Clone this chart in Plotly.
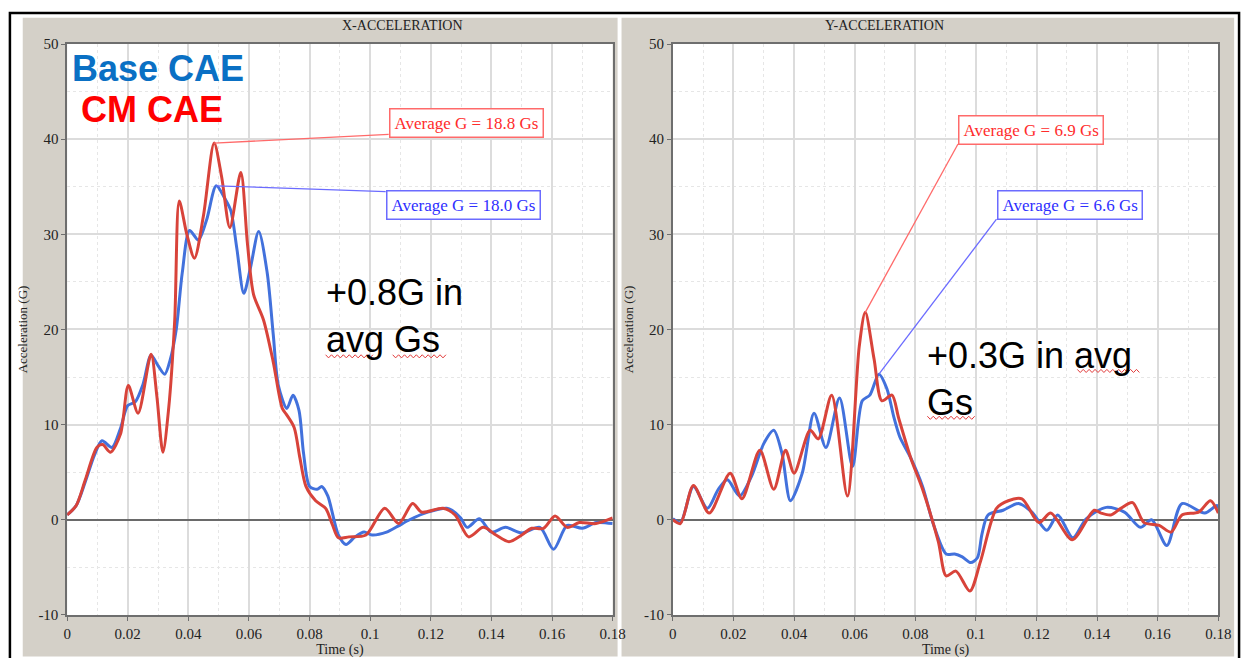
import plotly.graph_objects as go

W, H = 1257, 658

# ---- axis ticks ----
time_ticks = [0, 0.02, 0.04, 0.06, 0.08, 0.1, 0.12, 0.14, 0.16, 0.18]
time_labels = ["0", "0.02", "0.04", "0.06", "0.08", "0.1", "0.12", "0.14", "0.16", "0.18"]
accel_ticks = [-10, 0, 10, 20, 30, 40, 50]
accel_labels = ["-10", "0", "10", "20", "30", "40", "50"]

# ---- X-acceleration, Base CAE ----
x_base_t = [0.000, 0.003, 0.006, 0.009, 0.0115, 0.0148, 0.0175, 0.020, 0.0225, 0.025,
            0.0277, 0.030, 0.0322, 0.034, 0.036, 0.038, 0.0404, 0.0433, 0.046, 0.0492,
            0.052, 0.054, 0.056, 0.0583, 0.0605, 0.0632, 0.066, 0.068, 0.0697, 0.0725,
            0.0745, 0.0765, 0.078, 0.080, 0.0825, 0.084, 0.086, 0.0895, 0.092, 0.095,
            0.098, 0.1006, 0.1054, 0.109, 0.113, 0.119, 0.1253, 0.127, 0.1298, 0.132,
            0.136, 0.140, 0.1446, 0.150, 0.156, 0.1605, 0.165, 0.170, 0.1746, 0.180]
x_base_g = [0.5, 1.5, 4.0, 6.8, 8.3, 7.6, 9.5, 12.0, 12.4, 14.2,
            17.3, 16.2, 15.3, 16.8, 20.0, 26.0, 30.4, 29.4, 31.5, 35.1,
            33.8, 32.5, 28.5, 23.8, 26.5, 30.3, 26.0, 19.5, 14.1, 11.7,
            13.1, 11.5, 7.0, 3.5, 3.2, 3.5, 2.5, -1.6, -2.6, -1.8,
            -1.3, -1.6, -1.3, -0.7, 0.0, 0.8, 1.2, 1.0, 0.2, -0.8,
            0.1, -1.3, -0.8, -1.4, -0.8, -3.1, -0.6, -0.9, -0.3, -0.4]

# ---- X-acceleration, CM CAE ----
x_cm_t = [0.000, 0.003, 0.006, 0.0098, 0.0117, 0.0143, 0.0176, 0.0202, 0.0234, 0.0277,
          0.0296, 0.0316, 0.0335, 0.0355, 0.037, 0.0395, 0.042, 0.045, 0.0485, 0.051,
          0.0537, 0.0573, 0.0595, 0.0615, 0.0648, 0.068, 0.071, 0.0725, 0.0749, 0.0768,
          0.0788, 0.082, 0.0853, 0.0875, 0.0895, 0.093, 0.0986, 0.1048, 0.1094, 0.114,
          0.117, 0.124, 0.128, 0.1325, 0.1373, 0.1415, 0.1458, 0.150, 0.1533, 0.1572,
          0.161, 0.165, 0.169, 0.1745, 0.180]
x_cm_g = [0.5, 1.5, 4.2, 7.6, 7.9, 7.1, 9.0, 14.1, 11.2, 17.4,
          13.0, 7.1, 11.7, 21.0, 33.5, 30.0, 27.5, 32.0, 39.6, 36.0,
          30.7, 36.5, 29.0, 23.7, 21.0, 16.6, 11.7, 11.0, 9.7, 6.5,
          3.5, 2.0, 1.2, -0.5, -1.9, -1.8, -1.6, 1.2, -0.4, 1.7,
          0.8, 1.2, 0.5, -1.8, -0.8, -1.6, -2.3, -1.6, -0.9, -0.9,
          0.4, -0.8, -0.3, -0.4, 0.2]

# ---- Y-acceleration, Base CAE ----
y_base_t = [0.000, 0.0025, 0.0068, 0.0114, 0.015, 0.018, 0.022, 0.026, 0.030, 0.0333,
            0.036, 0.0388, 0.0427, 0.0466, 0.0505, 0.055, 0.0593, 0.0625, 0.065, 0.068,
            0.0706, 0.073, 0.0749, 0.0785, 0.0824, 0.086, 0.0902, 0.093, 0.0955, 0.0983,
            0.1005, 0.102, 0.104, 0.109, 0.114, 0.1185, 0.1234, 0.127, 0.132, 0.1364,
            0.143, 0.149, 0.1543, 0.158, 0.163, 0.168, 0.1755, 0.1795, 0.180]
y_base_g = [0.1, -0.3, 3.5, 1.2, 3.2, 4.2, 2.5, 4.6, 8.0, 9.4,
            7.0, 2.0, 4.9, 11.2, 7.6, 12.8, 5.6, 12.5, 13.1, 15.3,
            13.8, 10.7, 8.7, 6.5, 3.5, -0.5, -3.6, -3.6, -3.9, -4.5,
            -4.0, -1.5, 0.5, 1.0, 1.7, 0.8, -1.1, 0.5, -1.9, 0.1,
            1.3, 0.8, -0.8, 0.0, -2.7, 1.7, 0.7, 1.5, 1.2]

# ---- Y-acceleration, CM CAE ----
y_cm_t = [0.000, 0.0025, 0.0068, 0.012, 0.0189, 0.0228, 0.0287, 0.0333, 0.0372, 0.040,
          0.0453, 0.048, 0.0524, 0.0576, 0.0615, 0.0635, 0.0664, 0.069, 0.0723, 0.0745,
          0.0785, 0.0824, 0.0876, 0.0902, 0.0934, 0.098, 0.1015, 0.1068, 0.1107, 0.1152,
          0.1208, 0.1247, 0.1318, 0.139, 0.1413, 0.1445, 0.1478, 0.1517, 0.1555, 0.1605,
          0.1644, 0.168, 0.1735, 0.1774, 0.180]
y_cm_g = [0.0, -0.4, 3.6, 0.7, 4.9, 2.2, 7.3, 3.2, 7.3, 4.9,
          9.4, 8.5, 13.1, 2.5, 18.2, 21.8, 16.9, 12.5, 13.1, 10.7,
          6.5, 3.2, -2.3, -5.9, -5.4, -7.5, -4.4, 1.2, 2.0, 2.2,
          -0.3, 0.7, -2.1, 1.0, 0.7, 0.5, 1.2, 1.8, -0.3, -0.6,
          -1.3, 0.5, 0.8, 2.0, 0.7]

series_names = ["Base CAE", "CM CAE"]
avg_x = ["Average G = 18.0 Gs", "Average G = 18.8 Gs"]
avg_y = ["Average G = 6.6 Gs", "Average G = 6.9 Gs"]
delta_x = "+0.8G in<br>avg Gs"
delta_y = "+0.3G in avg<br>Gs"

BLUE = "#4271dc"
RED = "#d8433a"
BOX_RED = "#ff6a6a"
BOX_BLUE = "#6b6bff"
PANEL = "#d4d0c8"
SERIF = "Liberation Serif, Times New Roman, serif"
SANS = "Liberation Sans, Arial, sans-serif"


def px_x(p):
    return p / W


def px_y(p):
    return 1 - p / H


dom_y = [px_y(622), px_y(37)]
dom_x1 = [px_x(64), px_x(617)]
dom_x2 = [px_x(678), px_x(1231)]

fig = go.Figure()

for t, g, col, name, xa, ya in [
    (x_base_t, x_base_g, BLUE, series_names[0], "x", "y"),
    (x_cm_t, x_cm_g, RED, series_names[1], "x", "y"),
    (y_base_t, y_base_g, BLUE, series_names[0], "x2", "y2"),
    (y_cm_t, y_cm_g, RED, series_names[1], "x2", "y2"),
]:
    fig.add_trace(go.Scatter(
        x=t, y=g, mode="lines", name=name, xaxis=xa, yaxis=ya,
        line=dict(color=col, width=3, shape="spline", smoothing=0.8),
        showlegend=False, hoverinfo="skip",
    ))

axis_common = dict(
    showline=True, linecolor="#6e6e6e", linewidth=1.5, mirror=True,
    ticks="outside", ticklen=4, tickcolor="#6e6e6e",
    showgrid=True, gridcolor="#dcdcdc", gridwidth=1.5,
    tickfont=dict(family=SERIF, size=15, color="#222222"),
)
x_common = dict(axis_common, range=[0, 0.18], tickvals=time_ticks, ticktext=time_labels,
                zeroline=False,
                minor=dict(dtick=0.01, tick0=0, showgrid=True, gridcolor="#e6e6e6",
                           griddash="dot", gridwidth=1, ticks=""),
                title=dict(text="Time (s)", standoff=2,
                           font=dict(family=SERIF, size=14, color="#222222")))
y_common = dict(axis_common, range=[-10, 50], tickvals=accel_ticks, ticktext=accel_labels,
                zeroline=True, zerolinecolor="#6a6a6a", zerolinewidth=1.5,
                minor=dict(dtick=5, tick0=0, showgrid=True, gridcolor="#e6e6e6",
                           griddash="dot", gridwidth=1, ticks=""),
                title=dict(text="Acceleration (G)", standoff=8,
                           font=dict(family=SERIF, size=13, color="#222222")))

fig.update_layout(
    width=W, height=H, margin=dict(l=0, r=0, t=0, b=0),
    paper_bgcolor="white", plot_bgcolor="white",
    xaxis=dict(x_common, domain=dom_x1, anchor="y"),
    yaxis=dict(y_common, domain=dom_y, anchor="x"),
    xaxis2=dict(x_common, domain=dom_x2, anchor="y2"),
    yaxis2=dict(y_common, domain=dom_y, anchor="x2"),
)

shapes = []
# grey chart panels and white plotting areas
shapes.append(dict(type="rect", xref="paper", yref="paper", layer="below",
                   x0=px_x(19), x1=px_x(622), y0=-0.01, y1=px_y(10),
                   fillcolor=PANEL, line=dict(width=0)))
shapes.append(dict(type="rect", xref="paper", yref="paper", layer="below",
                   x0=px_x(626), x1=px_x(1247), y0=-0.01, y1=px_y(10),
                   fillcolor=PANEL, line=dict(width=0)))
for dx in (dom_x1, dom_x2):
    shapes.append(dict(type="rect", xref="paper", yref="paper", layer="below",
                       x0=dx[0], x1=dx[1], y0=dom_y[0], y1=dom_y[1],
                       fillcolor="white", line=dict(width=0)))
# outer frame
shapes.append(dict(type="rect", xref="paper", yref="paper",
                   x0=px_x(6), x1=px_x(1252), y0=-0.02, y1=px_y(5),
                   fillcolor="rgba(0,0,0,0)", line=dict(color="black", width=2.5)))


def peak(t, g):
    i = max(range(len(g)), key=lambda k: g[k])
    return t[i], g[i]


# connectors from the curve peaks to the average-G boxes
callouts = [
    # (t, g, colour, text_colour, label, box_t, box_g, end_g, xref, yref)
    (x_cm_t, x_cm_g, BOX_RED, "#ff2c2c", avg_x[1], 0.1061, 41.7, 40.5, "x", "y"),
    (x_base_t, x_base_g, BOX_BLUE, "#2f2fff", avg_x[0], 0.1051, 33.1, 34.5, "x", "y"),
    (y_cm_t, y_cm_g, BOX_RED, "#ff2c2c", avg_y[1], 0.0941, 41.0, 39.5, "x2", "y2"),
    (y_base_t, y_base_g, BOX_BLUE, "#2f2fff", avg_y[0], 0.1068, 33.1, 31.6, "x2", "y2"),
]
annotations = []
for t, g, col, tcol, label, bt, bg, eg, xr, yr in callouts:
    pt, pg = peak(t, g)
    shapes.append(dict(type="line", xref=xr, yref=yr, x0=pt, y0=pg, x1=bt, y1=eg,
                       line=dict(color=col, width=1.3)))
    annotations.append(dict(xref=xr, yref=yr, x=bt, y=bg, xanchor="left", yanchor="middle",
                            text=label, showarrow=False, bgcolor="white",
                            bordercolor=col, borderwidth=1.5, borderpad=4,
                            font=dict(family=SERIF, size=17, color=tcol)))

# chart titles
annotations.append(dict(xref="paper", yref="paper", x=sum(dom_x1) / 2, y=px_y(18),
                        yanchor="middle", text="X-ACCELERATION", showarrow=False,
                        font=dict(family=SERIF, size=14, color="#222222")))
annotations.append(dict(xref="paper", yref="paper", x=sum(dom_x2) / 2, y=px_y(18),
                        yanchor="middle", text="Y-ACCELERATION", showarrow=False,
                        font=dict(family=SERIF, size=14, color="#222222")))

# series key
annotations.append(dict(xref="paper", yref="paper", x=px_x(67), y=px_y(62), xanchor="left",
                        yanchor="middle", text="<b>" + series_names[0] + "</b>",
                        showarrow=False, font=dict(family=SANS, size=36, color="#0a70c4")))
annotations.append(dict(xref="paper", yref="paper", x=px_x(76), y=px_y(104), xanchor="left",
                        yanchor="middle", text="<b>" + series_names[1] + "</b>",
                        showarrow=False, font=dict(family=SANS, size=36, color="#ff0000")))

# difference notes
annotations.append(dict(xref="paper", yref="paper", x=px_x(324), y=px_y(316), xanchor="left",
                        yanchor="middle", text=delta_x, align="left", showarrow=False,
                        font=dict(family=SANS, size=36, color="black")))
annotations.append(dict(xref="paper", yref="paper", x=px_x(934), y=px_y(380), xanchor="left",
                        yanchor="middle", text=delta_y, align="left", showarrow=False,
                        font=dict(family=SANS, size=36, color="black")))


def squiggle(x0, x1, y, amp=1.6, step=3.0):
    pts = []
    x = x0
    k = 0
    while x <= x1:
        yy = y + (amp if k % 2 else -amp)
        pts.append(f"{px_x(x):.5f},{px_y(yy):.5f}")
        x += step
        k += 1
    return "M " + " L ".join(pts)


# spell-check underlines beneath the notes
for a, b, yy in [(326, 375, 357), (394, 448, 357), (1088, 1152, 372), (936, 985, 420)]:
    shapes.append(dict(type="path", xref="paper", yref="paper", path=squiggle(a, b, yy),
                       line=dict(color="#e23b3b", width=1)))

fig.update_layout(shapes=shapes, annotations=annotations)
fig.write_html("out.html")
